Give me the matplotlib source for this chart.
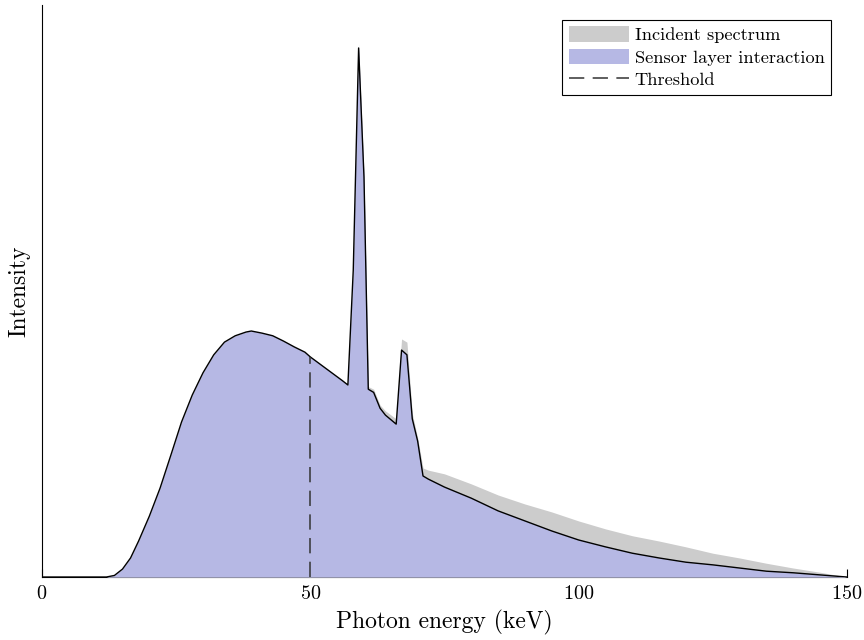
import numpy as np
import matplotlib
matplotlib.use("Agg")
import matplotlib.pyplot as plt

plt.rcParams['font.family'] = 'serif'
plt.rcParams['font.serif'] = ['cmr10', 'DejaVu Serif']
plt.rcParams['mathtext.fontset'] = 'cm'
plt.rcParams['axes.formatter.use_mathtext'] = True

# photon energy grid (keV)
energy = [0, 10, 12, 13.5, 15, 16.5, 18, 20, 22, 24, 26, 28, 30, 32, 34, 36, 38, 39,
          41, 43, 45, 47, 49, 50, 52, 54, 56, 57, 58, 59, 60, 60.8, 61.8, 63, 64, 66,
          67, 68, 69, 70, 71, 72, 75, 80, 85, 90, 95, 100, 105, 110, 115, 120, 125,
          130, 135, 140, 145, 150]

# sensor layer interaction (normalised intensity)
sensor = [0, 0, 0, 0.003, 0.015, 0.036, 0.068, 0.115, 0.168, 0.230, 0.293, 0.344,
          0.386, 0.420, 0.444, 0.456, 0.463, 0.465, 0.461, 0.456, 0.446, 0.435, 0.425,
          0.416, 0.401, 0.386, 0.371, 0.363, 0.580, 1.0, 0.756, 0.355, 0.349, 0.319,
          0.306, 0.289, 0.429, 0.420, 0.299, 0.257, 0.191, 0.185, 0.170, 0.149, 0.125,
          0.106, 0.087, 0.070, 0.057, 0.045, 0.036, 0.028, 0.023, 0.017, 0.011, 0.008,
          0.004, 0.0]

# incident spectrum
incident = [0, 0, 0, 0.003, 0.015, 0.036, 0.068, 0.115, 0.168, 0.230, 0.293, 0.344,
            0.386, 0.420, 0.444, 0.456, 0.463, 0.465, 0.461, 0.456, 0.446, 0.435, 0.425,
            0.416, 0.401, 0.386, 0.371, 0.363, 0.584, 1.008, 0.762, 0.360, 0.355, 0.325,
            0.314, 0.299, 0.450, 0.444, 0.309, 0.263, 0.206, 0.202, 0.195, 0.176, 0.155,
            0.138, 0.123, 0.106, 0.091, 0.078, 0.068, 0.057, 0.045, 0.036, 0.026, 0.017,
            0.009, 0.0]

threshold = 50

energy = np.array(energy)
sensor = np.array(sensor)
incident = np.array(incident)

fig = plt.figure(figsize=(8.64, 6.4), dpi=100)
ax = fig.add_axes([0.0486, 0.0984, 0.9317, 0.8936])

ax.fill_between(energy, 0, incident, color='#cccccc', lw=0, zorder=3,
                label='Incident spectrum')
ax.fill_between(energy, 0, sensor, color='#b6b8e4', lw=0, zorder=3.1,
                label='Sensor layer interaction')
ax.plot(energy, sensor, color='black', lw=1.0, zorder=3.2)
thr_y = np.interp(threshold, energy, sensor)
ax.plot([threshold, threshold], [0, thr_y], color='#333333', lw=1.1,
        dashes=(10, 5.5), zorder=3.3, label='Threshold')

ax.set_xlim(0, 150)
ax.set_ylim(0, 1.081)
ax.set_xticks([0, 50, 100, 150])
ax.set_yticks([])
ax.tick_params(axis='x', direction='in', length=6, labelsize=14.5, pad=6)
ax.spines['top'].set_visible(False)
ax.spines['right'].set_visible(False)
ax.set_xlabel('Photon energy (keV)', fontsize=17, labelpad=5)
ax.set_ylabel('Intensity', fontsize=17, labelpad=8)

leg = ax.legend(loc='upper right', bbox_to_anchor=(0.98, 0.974), fontsize=13.2,
                fancybox=False, edgecolor='black', framealpha=1,
                handlelength=3.3, handleheight=0.9, borderaxespad=0,
                labelspacing=0.3, handletextpad=0.3, borderpad=0.35)
leg.get_frame().set_linewidth(0.8)

fig.savefig('out.png', dpi=100)
